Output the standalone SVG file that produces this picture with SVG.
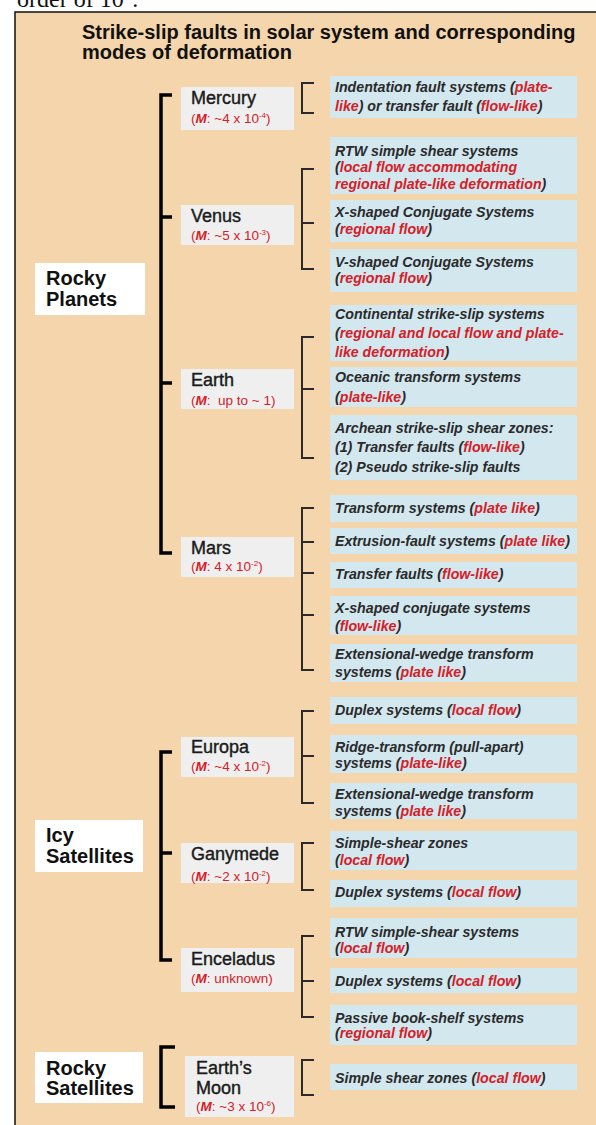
<svg xmlns="http://www.w3.org/2000/svg" width="596" height="1125" viewBox="0 0 596 1125">
<style>
.page{fill:#ffffff}
.bg{fill:#F5D6AC;stroke:#111;stroke-width:1.5}
.top{font-family:"Liberation Serif",serif;font-size:24px;fill:#111}
.title{font-family:"Liberation Sans",Arial,sans-serif;font-weight:bold;font-size:20px;fill:#111}
.cat{fill:#ffffff}
.catt{font-family:"Liberation Sans",Arial,sans-serif;font-weight:bold;font-size:20px;fill:#111}
.node{fill:#EFEFEF}
.nodet{font-family:"Liberation Sans",Arial,sans-serif;font-size:18px;fill:#1a1a1a;stroke:#1a1a1a;stroke-width:0.4}
.m{font-family:"Liberation Sans",Arial,sans-serif;font-size:13.5px;fill:#D42027}
.mi{font-weight:bold;font-style:italic}
.sup{font-size:8px}
.box{fill:#D3E7EF}
.bt{font-family:"Liberation Sans",Arial,sans-serif;font-weight:bold;font-style:italic;font-size:14.2px;fill:#2a2a2a}
.r{fill:#D42027}
.big{fill:none;stroke:#000;stroke-width:3.5}
.small{fill:none;stroke:#2a2a2a;stroke-width:2}
</style>
<rect class="page" x="0" y="0" width="596" height="1125"/>
<text class="top" x="17" y="7">order of 10<tspan class="sup" dy="-10">−4</tspan><tspan dy="10">.</tspan></text>
<rect class="bg" x="15" y="12" width="590" height="1125"/>
<g id="title">
<text class="title" x="82" y="39">Strike-slip faults in solar system and corresponding</text>
<text class="title" x="82" y="59">modes of deformation</text>
</g>

<g id="connectors">
<path class="big" d="M172,95 H161 V553 H172 M161,217 H172 M161,383 H172"/>
<path class="big" d="M172,752 H161 V960 H172 M161,853 H172"/>
<path class="big" d="M175,1047 H161 V1107 H175"/>
<path class="small" d="M314,83 H302 V113 H314"/>
<path class="small" d="M314,169 H302 V269 H314 M302,223 H314"/>
<path class="small" d="M314,337 H302 V458 H314 M302,389 H314"/>
<path class="small" d="M314,508 H302 V670 H314 M302,542 H314 M302,573 H314 M302,615 H314"/>
<path class="small" d="M314,711 H302 V803 H314 M302,756 H314"/>
<path class="small" d="M314,843 H302 V890 H314"/>
<path class="small" d="M314,936 H302 V1017 H314 M302,981 H314"/>
<path class="small" d="M314,1060 H302 V1095 H314"/>
</g>

<g id="rocky-planets">
<rect class="cat" x="35" y="263" width="110" height="52"/>
<text class="catt" x="46" y="285">Rocky</text>
<text class="catt" x="46" y="306">Planets</text>
</g>
<g id="icy-satellites">
<rect class="cat" x="35" y="820" width="108" height="52"/>
<text class="catt" x="46" y="842">Icy</text>
<text class="catt" x="46" y="863">Satellites</text>
</g>
<g id="rocky-satellites">
<rect class="cat" x="35" y="1052" width="108" height="51"/>
<text class="catt" x="46" y="1075">Rocky</text>
<text class="catt" x="46" y="1095">Satellites</text>
</g>

<g id="mercury">
<rect class="node" x="181" y="87" width="113" height="43"/>
<text class="nodet" x="191" y="104">Mercury</text>
<text class="m" x="191" y="123">(<tspan class="mi">M</tspan>: ~4 x 10<tspan class="sup" dy="-5">-4</tspan><tspan dy="5">)</tspan></text>
</g>
<g id="venus">
<rect class="node" x="181" y="205" width="113" height="40"/>
<text class="nodet" x="191" y="222">Venus</text>
<text class="m" x="191" y="240">(<tspan class="mi">M</tspan>: ~5 x 10<tspan class="sup" dy="-5">-3</tspan><tspan dy="5">)</tspan></text>
</g>
<g id="earth">
<rect class="node" x="181" y="369" width="113" height="40"/>
<text class="nodet" x="191" y="386">Earth</text>
<text class="m" x="191" y="405">(<tspan class="mi">M</tspan>:&#160; up to ~ 1)</text>
</g>
<g id="mars">
<rect class="node" x="181" y="537" width="113" height="40"/>
<text class="nodet" x="191" y="554">Mars</text>
<text class="m" x="191" y="571">(<tspan class="mi">M</tspan>: 4 x 10<tspan class="sup" dy="-5">-2</tspan><tspan dy="5">)</tspan></text>
</g>
<g id="europa">
<rect class="node" x="181" y="737" width="113" height="40"/>
<text class="nodet" x="191" y="753">Europa</text>
<text class="m" x="191" y="771">(<tspan class="mi">M</tspan>: ~4 x 10<tspan class="sup" dy="-5">-2</tspan><tspan dy="5">)</tspan></text>
</g>
<g id="ganymede">
<rect class="node" x="181" y="843" width="113" height="40"/>
<text class="nodet" x="191" y="860">Ganymede</text>
<text class="m" x="191" y="881">(<tspan class="mi">M</tspan>: ~2 x 10<tspan class="sup" dy="-5">-2</tspan><tspan dy="5">)</tspan></text>
</g>
<g id="enceladus">
<rect class="node" x="181" y="948" width="113" height="44"/>
<text class="nodet" x="191" y="965">Enceladus</text>
<text class="m" x="191" y="983">(<tspan class="mi">M</tspan>: unknown)</text>
</g>
<g id="earths-moon">
<rect class="node" x="185" y="1056" width="109" height="61"/>
<text class="nodet" x="196" y="1074">Earth’s</text>
<text class="nodet" x="196" y="1094">Moon</text>
<text class="m" x="196" y="1111">(<tspan class="mi">M</tspan>: ~3 x 10<tspan class="sup" dy="-5">-6</tspan><tspan dy="5">)</tspan></text>
</g>

<g id="mercury-modes">
<rect class="box" x="330" y="76" width="247" height="42"/>
<text class="bt" x="335" y="92">Indentation fault systems (<tspan class="r">plate-</tspan></text>
<text class="bt" x="335" y="111"><tspan class="r">like</tspan>) or transfer fault (<tspan class="r">flow-like</tspan>)</text>
</g>
<g id="venus-rtw">
<rect class="box" x="330" y="137" width="247" height="57"/>
<text class="bt" x="335" y="156">RTW simple shear systems</text>
<text class="bt" x="335" y="172">(<tspan class="r">local flow accommodating</tspan></text>
<text class="bt" x="335" y="189"><tspan class="r">regional plate-like deformation</tspan>)</text>
</g>
<g id="venus-x">
<rect class="box" x="330" y="200" width="247" height="42"/>
<text class="bt" x="335" y="217">X-shaped Conjugate Systems</text>
<text class="bt" x="335" y="234">(<tspan class="r">regional flow</tspan>)</text>
</g>
<g id="venus-v">
<rect class="box" x="330" y="249" width="247" height="43"/>
<text class="bt" x="335" y="267">V-shaped Conjugate Systems</text>
<text class="bt" x="335" y="283">(<tspan class="r">regional flow</tspan>)</text>
</g>
<g id="earth-continental">
<rect class="box" x="330" y="305" width="247" height="56"/>
<text class="bt" x="335" y="319">Continental strike-slip systems</text>
<text class="bt" x="335" y="338">(<tspan class="r">regional and local flow and plate-</tspan></text>
<text class="bt" x="335" y="357"><tspan class="r">like deformation</tspan>)</text>
</g>
<g id="earth-oceanic">
<rect class="box" x="330" y="367" width="247" height="40"/>
<text class="bt" x="335" y="382">Oceanic transform systems</text>
<text class="bt" x="335" y="402">(<tspan class="r">plate-like</tspan>)</text>
</g>
<g id="earth-archean">
<rect class="box" x="330" y="415" width="247" height="65"/>
<text class="bt" x="335" y="433">Archean strike-slip shear zones:</text>
<text class="bt" x="335" y="452">(1) Transfer faults (<tspan class="r">flow-like</tspan>)</text>
<text class="bt" x="335" y="472">(2) Pseudo strike-slip faults</text>
</g>
<g id="mars-transform">
<rect class="box" x="330" y="495" width="247" height="27"/>
<text class="bt" x="335" y="513">Transform systems (<tspan class="r">plate like</tspan>)</text>
</g>
<g id="mars-extrusion">
<rect class="box" x="330" y="528" width="247" height="26"/>
<text class="bt" x="335" y="546">Extrusion-fault systems (<tspan class="r">plate like</tspan>)</text>
</g>
<g id="mars-transfer">
<rect class="box" x="330" y="562" width="247" height="26"/>
<text class="bt" x="335" y="579">Transfer faults (<tspan class="r">flow-like</tspan>)</text>
</g>
<g id="mars-x">
<rect class="box" x="330" y="596" width="247" height="39"/>
<text class="bt" x="335" y="613">X-shaped conjugate systems</text>
<text class="bt" x="335" y="631">(<tspan class="r">flow-like</tspan>)</text>
</g>
<g id="mars-wedge">
<rect class="box" x="330" y="644" width="247" height="38"/>
<text class="bt" x="335" y="659">Extensional-wedge transform</text>
<text class="bt" x="335" y="677">systems (<tspan class="r">plate like</tspan>)</text>
</g>
<g id="europa-duplex">
<rect class="box" x="330" y="697" width="247" height="27"/>
<text class="bt" x="335" y="715">Duplex systems (<tspan class="r">local flow</tspan>)</text>
</g>
<g id="europa-ridge">
<rect class="box" x="330" y="735" width="247" height="38"/>
<text class="bt" x="335" y="752">Ridge-transform (pull-apart)</text>
<text class="bt" x="335" y="768">systems (<tspan class="r">plate-like</tspan>)</text>
</g>
<g id="europa-wedge">
<rect class="box" x="330" y="783" width="247" height="36"/>
<text class="bt" x="335" y="799">Extensional-wedge transform</text>
<text class="bt" x="335" y="816">systems (<tspan class="r">plate like</tspan>)</text>
</g>
<g id="ganymede-shear">
<rect class="box" x="330" y="831" width="247" height="39"/>
<text class="bt" x="335" y="848">Simple-shear zones</text>
<text class="bt" x="335" y="865">(<tspan class="r">local flow</tspan>)</text>
</g>
<g id="ganymede-duplex">
<rect class="box" x="330" y="880" width="247" height="27"/>
<text class="bt" x="335" y="897">Duplex systems (<tspan class="r">local flow</tspan>)</text>
</g>
<g id="enceladus-rtw">
<rect class="box" x="330" y="918" width="247" height="40"/>
<text class="bt" x="335" y="937">RTW simple-shear systems</text>
<text class="bt" x="335" y="953">(<tspan class="r">local flow</tspan>)</text>
</g>
<g id="enceladus-duplex">
<rect class="box" x="330" y="968" width="247" height="25"/>
<text class="bt" x="335" y="986">Duplex systems (<tspan class="r">local flow</tspan>)</text>
</g>
<g id="enceladus-bookshelf">
<rect class="box" x="330" y="1005" width="247" height="40"/>
<text class="bt" x="335" y="1023">Passive book-shelf systems</text>
<text class="bt" x="335" y="1038">(<tspan class="r">regional flow</tspan>)</text>
</g>
<g id="moon-shear">
<rect class="box" x="330" y="1064" width="247" height="26"/>
<text class="bt" x="335" y="1083">Simple shear zones (<tspan class="r">local flow</tspan>)</text>
</g>
</svg>
